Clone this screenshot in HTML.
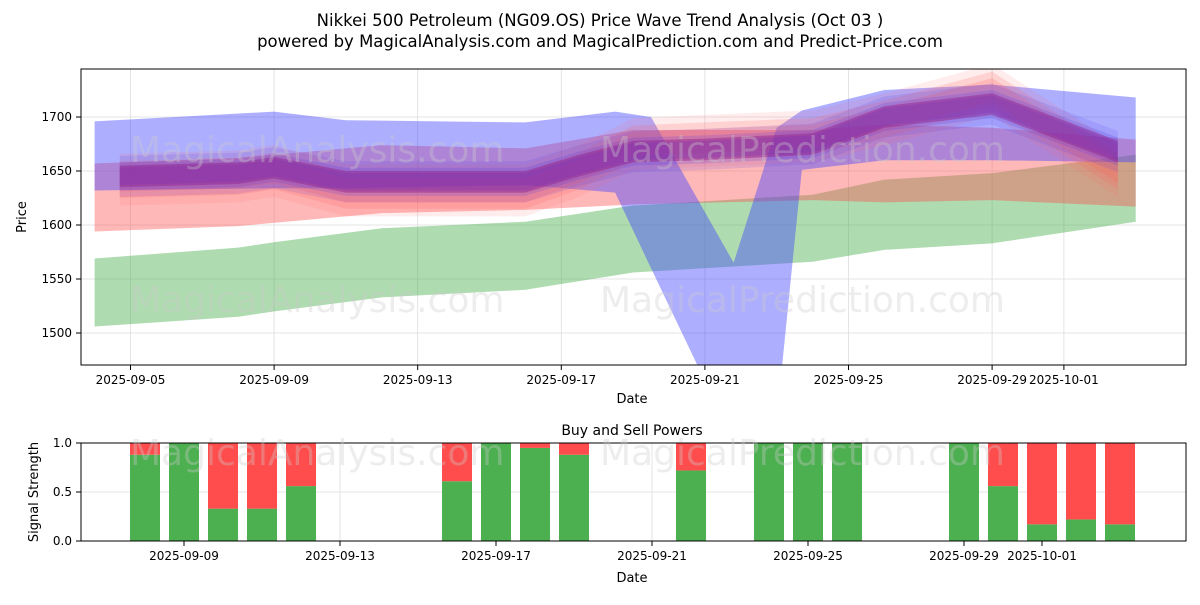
<!DOCTYPE html>
<html><head><meta charset="utf-8"><style>
body{margin:0;background:#fff;font-family:"Liberation Sans","DejaVu Sans",sans-serif}
svg text{font-family:"DejaVu Sans","Liberation Sans",sans-serif}
</style></head><body>
<svg id="c" width="1200" height="600" xmlns="http://www.w3.org/2000/svg">
<text x="600" y="26" text-anchor="middle" font-size="16.5">Nikkei 500 Petroleum (NG09.OS) Price Wave Trend Analysis (Oct 03 )</text>
<text x="600" y="47" text-anchor="middle" font-size="16.5">powered by MagicalAnalysis.com and MagicalPrediction.com and Predict-Price.com</text>
<defs><clipPath id="cp1"><rect x="81" y="69" width="1105" height="296"/></clipPath></defs>
<g id="topG" clip-path="url(#cp1)"></g>
<rect x="81" y="69" width="1105" height="296" fill="none" stroke="#000"/>
<g id="topAxes"></g>
<text x="632" y="435" text-anchor="middle" font-size="14">Buy and Sell Powers</text>
<g id="bot"></g>
<rect x="81" y="443" width="1105" height="98" fill="none" stroke="#000"/>
<g font-size="36" fill="#ccc" opacity="0.35">
<text x="130" y="162">MagicalAnalysis.com</text>
<text x="600" y="162">MagicalPrediction.com</text>
<text x="130" y="312">MagicalAnalysis.com</text>
<text x="600" y="312">MagicalPrediction.com</text>
<text x="130" y="465">MagicalAnalysis.com</text>
<text x="600" y="465">MagicalPrediction.com</text>
</g>
</svg>
<script>
const NS="http://www.w3.org/2000/svg";
const greenDays=[4,8,9,12,16,19,24,26,29,33];
const greenUp=[1569,1579,1584,1597,1603,1618,1628,1642,1648,1665];
const greenLo=[1506,1515,1520,1533,1540,1556,1566,1577,1583,1603];
const redDays=[4,8,12,16,19,24,26,29,33];
const redUp=[1657,1662,1674,1671,1688,1688,1693,1690,1679];
const redLo=[1594,1599,1611,1614,1619,1623,1621,1623,1617];
const blueDays=[4,9,11,16,18.5,19.5,21.8,23,23.7,26,29,33];
const blueUp=[1696,1705,1697,1695,1705,1700,1565,1690,1706,1725,1730,1718];
const blueLo=[1632,1634,1634,1637,1630,1560,1400,1420,1651,1660,1660,1658];
const coreDays=[4.7,8,9,11,16,17.5,19,21,24,26,29,32.5];
const coreMid=[1645,1648,1653,1640,1640,1655,1668,1670,1675,1700,1712,1668];
const redMid=[1642,1645,1650,1632,1632,1650,1675,1678,1682,1698,1725,1650];
const barDays=[8,9,10,11,12,16,17,18,19,22,24,25,26,29,30,31,32,33];
const buyVals=[0.88,1,0.33,0.33,0.56,0.61,1,0.95,0.88,0.72,1,1,1,1,0.56,0.17,0.22,0.17];
const priceTicks=[1500,1550,1600,1650,1700];
const topDateTicks=[5,9,13,17,21,25,29,31];
const topDateLabels=["2025-09-05","2025-09-09","2025-09-13","2025-09-17","2025-09-21","2025-09-25","2025-09-29","2025-10-01"];
const botDateTicks=[9,13,17,21,25,29,31];
const botDateLabels=["2025-09-09","2025-09-13","2025-09-17","2025-09-21","2025-09-25","2025-09-29","2025-10-01"];
const sigTicks=[0,0.5,1];

const xT=d=>130.5+(d-5)*35.9, yT=v=>117-(v-1700)*1.08;
const xB=d=>184+(d-9)*39, yB=v=>541-v*98;
function el(t,a,p){const e=document.createElementNS(NS,t);for(const k in a)e.setAttribute(k,a[k]);p.appendChild(e);return e;}
const topG=document.getElementById('topG'),ta=document.getElementById('topAxes'),bot=document.getElementById('bot');
priceTicks.forEach(v=>{el('line',{x1:81,x2:1186,y1:yT(v),y2:yT(v),stroke:'#ddd','stroke-width':0.8},topG);});
topDateTicks.forEach(d=>{el('line',{x1:xT(d),x2:xT(d),y1:69,y2:365,stroke:'#ddd','stroke-width':0.8},topG);});
function band(days,up,lo,fill,op,name){
  let pts=days.map((d,i)=>xT(d)+','+yT(up[i]));
  for(let i=days.length-1;i>=0;i--)pts.push(xT(days[i])+','+yT(lo[i]));
  const p=el('polygon',{points:pts.join(' '),fill:fill,'fill-opacity':op},topG);
  
  
}
band(greenDays,greenUp,greenLo,'#4caf50',0.45,'green-band');
band(redDays,redUp,redLo,'#ff4d4d',0.4,'red-band');
band(blueDays,blueUp,blueLo,'#3f3fff',0.42,'blue-band');
[[24,0.12],[17,0.18],[11,0.22]].forEach(([w,o])=>band(coreDays,redMid.map(v=>v+w),redMid.map(v=>v-w),'#ff6060',o,'red-wave'));
[[19,0.15],[13,0.2],[8,0.25]].forEach(([w,o])=>band(coreDays,coreMid.map(v=>v+w),coreMid.map(v=>v-w),'#5a3adf',o,'blue-wave'));
band(coreDays,coreMid.map(v=>v+10),coreMid.map(v=>v-10),'#8e1f8e',0.45,'purple-core');
priceTicks.forEach(v=>{const y=yT(v);el('line',{x1:76,x2:81,y1:y,y2:y,stroke:'#000'},ta);
 const t=el('text',{x:72,y:y+4,'text-anchor':'end','font-size':12},ta);t.textContent=v;
 });
topDateTicks.forEach((d,i)=>{const x=xT(d);el('line',{x1:x,x2:x,y1:365,y2:370,stroke:'#000'},ta);
 const t=el('text',{x:x,y:384,'text-anchor':'middle','font-size':12},ta);t.textContent=topDateLabels[i];
 });
let t=el('text',{x:632,y:403,'text-anchor':'middle','font-size':13},ta);t.textContent='Date';

t=el('text',{x:26,y:217,'text-anchor':'middle','font-size':13,transform:'rotate(-90 26 217)'},ta);t.textContent='Price';

sigTicks.forEach(v=>{const y=yB(v);el('line',{x1:81,x2:1186,y1:y,y2:y,stroke:'#ddd','stroke-width':0.8},bot);
 el('line',{x1:76,x2:81,y1:y,y2:y,stroke:'#000'},bot);
 const s=el('text',{x:72,y:y+4,'text-anchor':'end','font-size':12},bot);s.textContent=v.toFixed(1);
 });
botDateTicks.forEach(d=>{el('line',{x1:xB(d),x2:xB(d),y1:443,y2:541,stroke:'#ddd','stroke-width':0.8},bot);});
barDays.forEach((d,i)=>{const x=xB(d)-15,b=buyVals[i];
 const g=el('rect',{x:x,y:yB(b),width:30,height:yB(0)-yB(b),fill:'#4caf50'},bot);
 
 const r=el('rect',{x:x,y:yB(1),width:30,height:yB(b)-yB(1),fill:'#ff4d4d'},bot);
 });
botDateTicks.forEach((d,i)=>{const x=xB(d);el('line',{x1:x,x2:x,y1:541,y2:546,stroke:'#000'},bot);
 const s=el('text',{x:x,y:560,'text-anchor':'middle','font-size':12},bot);s.textContent=botDateLabels[i];
 });
t=el('text',{x:632,y:582,'text-anchor':'middle','font-size':13},bot);t.textContent='Date';

t=el('text',{x:38,y:492,'text-anchor':'middle','font-size':13,transform:'rotate(-90 38 492)'},bot);t.textContent='Signal Strength';

</script>
</body></html>
